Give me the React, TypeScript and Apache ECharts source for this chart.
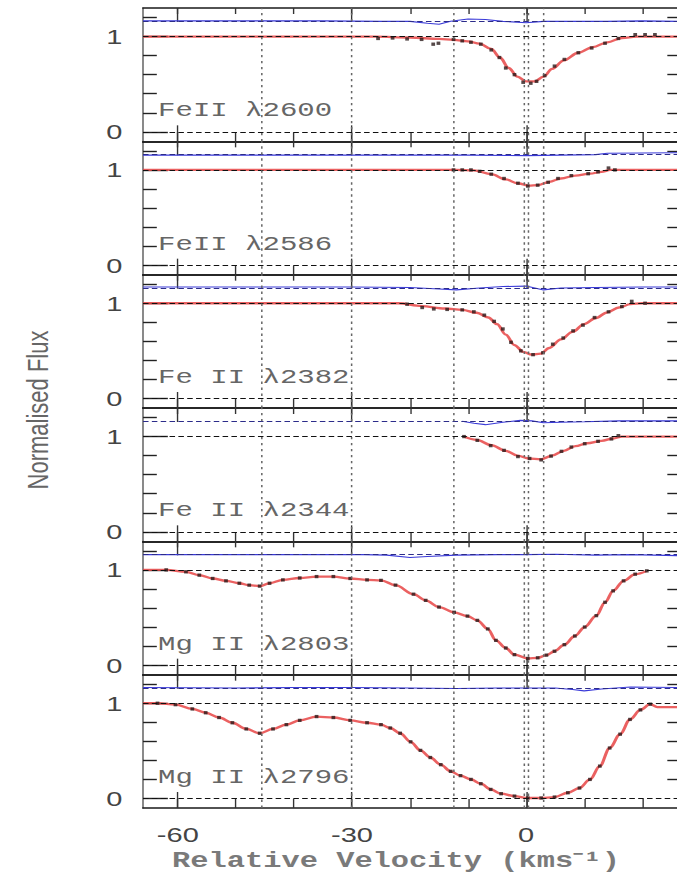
import React, { useEffect, useRef } from "react";
import * as echarts from "echarts";

// The figure is laid out in a narrower frame and widened horizontally by S.
const CHART_W = 490;
const CHART_H = 875;
const S = 677 / CHART_W;
const GRID_LEFT = 143 / S;
const GRID_W = CHART_W - GRID_LEFT;
const GRID_TOP = 8;
const PANEL_H = 800 / 6;

// Axes
const velocityRange = [-66, 26];
const fluxRange = [-0.1, 1.3];
const velocityTicks = [-60, -50, -40, -30, -20, -10, 0, 10, 20];
const velocityMajor = [-60, -30, 0];
const fluxTicks = [0.2, 0.4, 0.6, 0.8, 1.2];
const fluxMajor = [0, 1];
const referenceLevels = [0, 1];
const residualLevel = [1.16];
const componentVelocities = [-45.5, -30, -12.5, -0.3, 0.3, 2.9];
const labelAnchor = [-63.4, 0.22];

const transitions = [
  "FeII λ2600",
  "FeII λ2586",
  "Fe II λ2382",
  "Fe II λ2344",
  "Mg II λ2803",
  "Mg II λ2796",
];

// Fe II 2600
const obsFe2600 = [
  [-25.5, 0.98], [-23, 0.985], [-20.5, 0.975], [-18, 0.97], [-16, 0.92], [-15.1, 0.93],
  [-12.5, 0.97], [-11, 0.955], [-9.5, 0.94], [-7.8, 0.92], [-6, 0.86], [-4.6, 0.78],
  [-3.5, 0.67], [-2, 0.6], [-0.5, 0.52], [0.8, 0.51], [1.8, 0.53], [3.2, 0.59],
  [4.9, 0.69], [6.6, 0.76], [9, 0.83], [11.3, 0.88], [13.6, 0.93], [15.9, 0.98],
  [18.8, 1.02], [20.5, 1.02], [22.2, 1.02],
];
const fitFe2600 = [
  [-66, 1], [-26, 1], [-20, 0.99], [-15, 0.975], [-12.5, 0.965], [-10, 0.95], [-8, 0.925],
  [-6, 0.87], [-4.5, 0.78], [-3, 0.67], [-1.5, 0.58], [0, 0.53], [1.5, 0.53], [3, 0.58],
  [4.5, 0.66], [6.5, 0.75], [9, 0.83], [11.5, 0.89], [14, 0.94], [16.5, 0.985], [19, 1.0],
  [26, 1.0],
];
const resFe2600 = [
  [-66, 1.165], [-50, 1.165], [-35, 1.165], [-25, 1.16], [-20, 1.16], [-17, 1.14], [-15, 1.13],
  [-13, 1.16], [-10, 1.185], [-7, 1.18], [-4, 1.16], [0, 1.145], [3, 1.16], [8, 1.16],
  [14, 1.16], [20, 1.165], [26, 1.16],
];

// Fe II 2586
const obsFe2586 = [
  [-12.5, 1.0], [-11, 1.0], [-9.5, 1.0], [-8, 0.985], [-6, 0.955], [-3.8, 0.91], [-1.4, 0.86],
  [0.3, 0.83], [2, 0.84], [3.8, 0.87], [5.5, 0.91], [7.8, 0.94], [10.7, 0.96], [12.4, 0.98],
  [14.2, 1.02], [15.3, 1.0],
];
const fitFe2586 = [
  [-66, 1], [-12, 1], [-9, 0.995], [-6, 0.955], [-3.5, 0.9], [-1.5, 0.86], [0.5, 0.835],
  [2, 0.84], [4, 0.875], [6, 0.91], [8.5, 0.94], [11, 0.96], [13, 0.98], [14.5, 1.0], [26, 1],
];
const resFe2586 = [
  [-66, 1.155], [-40, 1.155], [-20, 1.155], [-10, 1.155], [0, 1.15], [6, 1.155], [12, 1.16],
  [14, 1.175], [26, 1.18],
];

// Fe II 2382
const obsFe2382 = [
  [-20.5, 0.99], [-17.9, 0.955], [-15.9, 0.94], [-13.6, 0.935], [-11, 0.93], [-9, 0.91],
  [-7.2, 0.875], [-5.5, 0.81], [-4, 0.73], [-2.6, 0.59], [-0.9, 0.5], [1.2, 0.46], [2.9, 0.48],
  [4.6, 0.57], [6.4, 0.635], [8.1, 0.71], [9.8, 0.77], [11.8, 0.85], [14.2, 0.91],
  [16.5, 0.965], [18.2, 1.02], [20.5, 1.0],
];
const fitFe2382 = [
  [-66, 1], [-22, 1], [-18, 0.97], [-14, 0.945], [-11, 0.93], [-8.5, 0.9], [-6.5, 0.85],
  [-5, 0.78], [-3.5, 0.67], [-2, 0.56], [-0.5, 0.49], [1, 0.46], [2.5, 0.47], [4, 0.53],
  [6, 0.62], [8, 0.7], [10, 0.78], [12, 0.845], [14, 0.905], [16, 0.955], [18, 0.99],
  [20, 1.0], [26, 1],
];
const resFe2382 = [
  [-66, 1.17], [-30, 1.17], [-20, 1.165], [-15, 1.15], [-12, 1.14], [-8, 1.16], [-4, 1.175],
  [0, 1.18], [3, 1.14], [6, 1.16], [12, 1.165], [20, 1.17], [26, 1.17],
];

// Fe II 2344
const obsFe2344 = [
  [-10.7, 1.0], [-8.4, 0.96], [-6.1, 0.905], [-3.8, 0.855], [-1.4, 0.79], [0.6, 0.77],
  [2.6, 0.755], [4.3, 0.795], [6.1, 0.845], [7.8, 0.89], [10.1, 0.925], [12.4, 0.95],
  [14.7, 0.975], [15.9, 1.01],
];
const fitFe2344 = [
  [-10.7, 1.0], [-8.5, 0.965], [-6, 0.91], [-3.5, 0.85], [-1.5, 0.8], [0.5, 0.77], [2.5, 0.76],
  [4.5, 0.8], [6.5, 0.85], [8.5, 0.9], [10.5, 0.93], [13, 0.955], [15, 0.98], [16.5, 1.0],
  [26, 1.0],
];
const resFe2344 = [
  [-11, 1.16], [-9, 1.14], [-7, 1.125], [-4, 1.15], [-1, 1.17], [1, 1.165], [3, 1.145],
  [6, 1.15], [10, 1.155], [16, 1.165], [26, 1.165],
];

// Mg II 2803
const obsMg2803 = [
  [-62, 1.0], [-58.6, 0.98], [-56.3, 0.945], [-54, 0.91], [-51.7, 0.885], [-49.4, 0.86],
  [-47.7, 0.84], [-45.9, 0.83], [-44.2, 0.86], [-41.9, 0.895], [-39, 0.915], [-36.1, 0.93],
  [-33.2, 0.93], [-30.3, 0.91], [-27.4, 0.895], [-25, 0.89], [-22.5, 0.84], [-19.4, 0.745],
  [-17.3, 0.68], [-15, 0.61], [-12.4, 0.555], [-10.1, 0.515], [-8.4, 0.47], [-6.6, 0.38],
  [-5.2, 0.26], [-3.5, 0.18], [-2, 0.11], [0.3, 0.07], [2, 0.077], [3.5, 0.105], [4.9, 0.146],
  [6.6, 0.215], [8.4, 0.306], [10.1, 0.4], [12.1, 0.52], [13.6, 0.66], [15, 0.78],
  [16.8, 0.885], [18.8, 0.955], [20.8, 0.99],
];
const fitMg2803Edges = [[-66, 1.0]];
const resMg2803 = [
  [-66, 1.16], [-50, 1.16], [-35, 1.16], [-28, 1.16], [-24, 1.155], [-20, 1.13], [-17, 1.14],
  [-12, 1.155], [-5, 1.16], [0, 1.16], [5, 1.165], [12, 1.155], [18, 1.16], [26, 1.15],
];

// Mg II 2796
const obsMg2796 = [
  [-63.5, 1.0], [-60.4, 0.985], [-57.5, 0.94], [-55.2, 0.9], [-52.9, 0.85], [-50.6, 0.795],
  [-48.2, 0.73], [-45.9, 0.685], [-43.6, 0.73], [-41.3, 0.775], [-39, 0.82], [-36.1, 0.86],
  [-33.2, 0.85], [-30.3, 0.82], [-27.4, 0.795], [-25, 0.775], [-23.4, 0.74], [-21.7, 0.685],
  [-19.9, 0.595], [-18.2, 0.505], [-16.5, 0.43], [-14.7, 0.355], [-13, 0.285], [-11.3, 0.24],
  [-9.5, 0.2], [-7.8, 0.155], [-6.1, 0.095], [-4.3, 0.05], [-2, 0.025], [0.3, 0.005],
  [2.6, 0.005], [4.9, 0.015], [7.2, 0.06], [9.2, 0.11], [11, 0.2], [12.7, 0.34], [14.4, 0.53],
  [16.2, 0.675], [17.9, 0.83], [19.7, 0.93], [21.4, 0.99],
];
const fitMg2796Left = [[-66, 1.0]];
const fitMg2796Right = [[22.6, 0.96], [26, 0.96]];
const resMg2796 = [
  [-66, 1.165], [-50, 1.16], [-40, 1.165], [-30, 1.165], [-20, 1.16], [-12, 1.155], [-5, 1.16],
  [0, 1.16], [5, 1.16], [8, 1.145], [10, 1.13], [13, 1.15], [18, 1.17], [26, 1.165],
];

const panels = [
  { label: transitions[0], obs: obsFe2600, fit: fitFe2600, res: resFe2600 },
  { label: transitions[1], obs: obsFe2586, fit: fitFe2586, res: resFe2586 },
  { label: transitions[2], obs: obsFe2382, fit: fitFe2382, res: resFe2382 },
  { label: transitions[3], obs: obsFe2344, fit: fitFe2344, res: resFe2344 },
  { label: transitions[4], obs: obsMg2803, fit: [...fitMg2803Edges, ...obsMg2803], res: resMg2803 },
  { label: transitions[5], obs: obsMg2796, fit: [...fitMg2796Left, ...obsMg2796, ...fitMg2796Right], res: resMg2796 },
];

const TICK_FONT = "Liberation Sans";
const MONO_FONT = "Liberation Mono";

function buildOption() {
  const grid: any[] = [];
  const xAxis: any[] = [];
  const yAxis: any[] = [];
  const series: any[] = [];
  const last = panels.length - 1;

  panels.forEach((p, i) => {
    grid.push({
      left: GRID_LEFT,
      width: GRID_W,
      top: GRID_TOP + i * PANEL_H,
      height: PANEL_H,
      outerBoundsMode: "none",
    });

    const xBase = {
      type: "value",
      gridIndex: i,
      min: velocityRange[0],
      max: velocityRange[1],
      splitLine: { show: false },
      axisLabel: { show: false },
    };
    const borderLine = { show: true, onZero: false, lineStyle: { color: "#1a1a1a", width: 1.5 } };
    const noLine = { show: false, onZero: false };
    const tickStyle = { color: "#333", width: 1 };

    xAxis.push({
      ...xBase,
      position: "bottom",
      axisLine: borderLine,
      axisTick: { show: true, inside: true, length: 9, customValues: velocityTicks, lineStyle: tickStyle },
    });
    xAxis.push({
      ...xBase,
      position: "bottom",
      axisLine: noLine,
      axisTick: { show: true, inside: true, length: 16, customValues: velocityMajor, lineStyle: tickStyle },
      axisLabel: {
        show: i === last,
        customValues: velocityMajor,
        fontFamily: TICK_FONT,
        fontSize: 21,
        color: "#444",
        margin: 16,
        formatter: (v: number) => String(v),
      },
    });
    xAxis.push({
      ...xBase,
      position: "top",
      axisLine: borderLine,
      axisTick: { show: true, inside: true, length: 6, customValues: velocityTicks, lineStyle: tickStyle },
    });
    xAxis.push({
      ...xBase,
      position: "top",
      axisLine: noLine,
      axisTick: { show: true, inside: true, length: 14, customValues: velocityMajor, lineStyle: tickStyle },
    });

    const yBase = {
      type: "value",
      gridIndex: i,
      min: fluxRange[0],
      max: fluxRange[1],
      splitLine: { show: false },
      axisLabel: { show: false },
    };
    const yTickStyle = { color: "#222", width: 1.4 };
    yAxis.push({
      ...yBase,
      position: "left",
      axisLine: { show: true, onZero: false, lineStyle: { color: "#555", width: 1 } },
      axisTick: { show: true, inside: true, length: 10, customValues: fluxTicks, lineStyle: yTickStyle },
    });
    yAxis.push({
      ...yBase,
      position: "left",
      axisLine: { show: false, onZero: false },
      axisTick: { show: true, inside: true, length: 18, customValues: fluxMajor, lineStyle: yTickStyle },
      axisLabel: {
        show: true,
        customValues: fluxMajor,
        fontFamily: TICK_FONT,
        fontSize: 21,
        color: "#444",
        margin: 15,
        formatter: (v: number) => String(v),
      },
    });
    yAxis.push({
      ...yBase,
      position: "right",
      axisLine: { show: true, onZero: false, lineStyle: { color: "#555", width: 1 } },
      axisTick: { show: true, inside: true, length: 7, customValues: fluxTicks, lineStyle: yTickStyle },
    });

    const xi = 4 * i;
    const yi = 3 * i;

    // residual trace above the continuum
    series.push({
      type: "line",
      xAxisIndex: xi,
      yAxisIndex: yi,
      data: p.res,
      symbol: "none",
      silent: true,
      lineStyle: { color: "#3a3ad8", width: 1.1 },
      z: 2,
    });
    // model profile
    series.push({
      type: "line",
      xAxisIndex: xi,
      yAxisIndex: yi,
      data: p.fit,
      symbol: "none",
      smooth: 0.35,
      smoothMonotone: "x",
      silent: true,
      lineStyle: { color: "#e84545", width: 2.3, opacity: 0.85 },
      z: 3,
    });
    // observed flux
    series.push({
      type: "scatter",
      xAxisIndex: xi,
      yAxisIndex: yi,
      data: p.obs,
      symbol: "rect",
      symbolSize: [2.7, 3.3],
      silent: true,
      itemStyle: { color: "#2a1a1a" },
      z: 4,
    });
    // continuum / zero levels and component velocities
    series.push({
      type: "line",
      xAxisIndex: xi,
      yAxisIndex: yi,
      data: [],
      silent: true,
      z: 5,
      markLine: {
        silent: true,
        symbol: ["none", "none"],
        label: { show: false },
        emphasis: { disabled: true },
        data: [
          ...referenceLevels.map((v) => ({
            yAxis: v,
            lineStyle: { color: "#111", width: 1.2, type: [4, 2.4] },
          })),
          ...residualLevel.map((v) => ({
            yAxis: v,
            lineStyle: { color: "#2c2c8a", width: 1, type: [4, 2.4] },
          })),
          ...componentVelocities.map((v) => ({
            xAxis: v,
            lineStyle: { color: "#666", width: 1.1, type: [2.4, 3.6] },
          })),
        ],
      },
    });
  });

  return {
    animation: false,
    backgroundColor: "#ffffff",
    grid,
    xAxis,
    yAxis,
    series,
  };
}

export default function App() {
  const ref = useRef<HTMLDivElement>(null);

  useEffect(() => {
    if (!ref.current) return;
    const chart = echarts.init(ref.current, null, { renderer: "svg" });
    chart.setOption(buildOption());

    const labels = panels.map((p, i) => {
      const pt = chart.convertToPixel({ gridIndex: i } as any, labelAnchor) as number[];
      return {
        type: "text",
        x: pt[0],
        y: pt[1],
        silent: true,
        z: 10,
        style: {
          text: p.label,
          fill: "#666",
          fontFamily: MONO_FONT,
          fontSize: 21,
          align: "left",
          verticalAlign: "middle",
          textAlign: "left",
          textVerticalAlign: "middle",
        },
      };
    });

    chart.setOption({
      graphic: [
        ...labels,
        {
          type: "text",
          x: 38 / S,
          y: 410,
          rotation: Math.PI / 2,
          silent: true,
          style: {
            text: "Normalised Flux",
            fill: "#666",
            fontFamily: TICK_FONT,
            fontSize: 22,
            align: "center",
            verticalAlign: "middle",
            textAlign: "center",
            textVerticalAlign: "middle",
          },
        },
        {
          type: "text",
          x: 396 / S,
          y: 861,
          silent: true,
          style: {
            text: "Relative Velocity (kms⁻¹)",
            fill: "#7a7a7a",
            fontFamily: MONO_FONT,
            fontWeight: "bold",
            fontSize: 22,
            align: "center",
            verticalAlign: "middle",
            textAlign: "center",
            textVerticalAlign: "middle",
          },
        },
      ],
    });

    return () => chart.dispose();
  }, []);

  return (
    <div
      ref={ref}
      style={{
        position: "absolute",
        left: 0,
        top: 0,
        width: CHART_W,
        height: CHART_H,
        transform: `scaleX(${S})`,
        transformOrigin: "0 0",
        background: "#fff",
      }}
    />
  );
}
